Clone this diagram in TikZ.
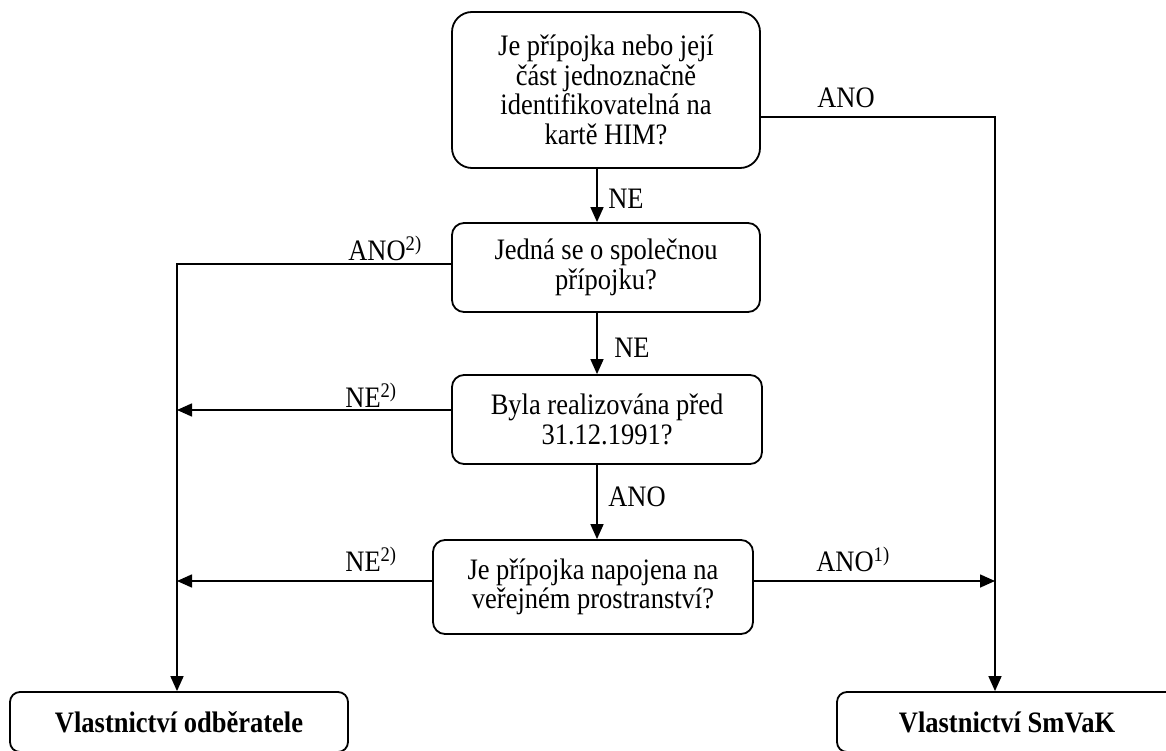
\documentclass[tikz,border=0pt]{standalone}
\usepackage{fontspec}
\usepackage{graphicx}
\setmainfont{Liberation Serif}
\usetikzlibrary{arrows.meta}
\newcommand{\vs}[1]{\scalebox{1}[1.12]{#1}}
\begin{document}
\begin{tikzpicture}[x=1pt,y=-1pt,
  box/.style={draw, line width=1.8pt, rounded corners=12pt, inner sep=0pt, align=center,
    font={\fontsize{26.5}{29.5}\selectfont\lineskiplimit=-60pt}},
  endbox/.style={box, rounded corners=10pt, font=\bfseries\fontsize{26.5}{29.5}\selectfont},
  lbl/.style={inner sep=0pt, font=\fontsize{26.5}{29.5}\selectfont},
  con/.style={line width=1.6pt},
  arr/.style={con, -{Triangle[length=15pt,width=13pt]}},
]
\clip (0,0) rectangle (1166,751);
% boxes
\node[box, rounded corners=20pt, minimum width=308pt, minimum height=156pt] (q1) at (606,90)
  {\vs{Je přípojka nebo její}\\\vs{část jednoznačně}\\\vs{identifikovatelná na}\\\vs{kartě HIM?}};
\node[box, minimum width=308pt, minimum height=89pt] (q2) at (606,267.5)
  {\vs{Jedná se o společnou}\\\vs{přípojku?}};
\node[box, minimum width=310pt, minimum height=89pt] (q3) at (607,419.5)
  {\vs{Byla realizována před}\\\vs{31.12.1991?}};
\node[box, minimum width=320pt, minimum height=94pt] (q4) at (593,587)
  {\vs{Je přípojka napojena na}\\\vs{veřejném prostranství?}};
\node[endbox, minimum width=338pt, minimum height=60pt] (own) at (179,722) {\vs{Vlastnictví odběratele}};
\node[endbox, minimum width=340pt, minimum height=60pt] (smv) at (1007,722) {\vs{Vlastnictví SmVaK}};
% helper coordinates
\coordinate (m) at (597,0);
\coordinate (c1) at (995,117);
\coordinate (c2) at (177,264);
\coordinate (l3) at (177,410);
\coordinate (l4) at (177,581);
\coordinate (r4) at (995,581);
% connectors
\draw[arr] (q1.south -| m) -- (q2.north -| m);
\draw[arr] (q2.south -| m) -- (q3.north -| m);
\draw[arr] (q3.south -| m) -- (q4.north -| m);
\draw[arr] (q1.east |- c1) -- (c1) -- (c1 |- smv.north);
\draw[arr] (q2.west |- c2) -- (c2) -- (c2 |- own.north);
\draw[arr] (q3.west |- l3) -- (l3);
\draw[arr] (q4.west |- l4) -- (l4);
\draw[arr] (q4.east |- r4) -- (r4);
% labels
\node[lbl] (t1) at (846,98) {\vs{ANO}};
\node[lbl] (t2) at (626,199) {\vs{NE}};
\node[lbl] (t3) at (385,248) {\vs{ANO\textsuperscript{2)}}};
\node[lbl] (t4) at (632,348) {\vs{NE}};
\node[lbl] (t5) at (371,395) {\vs{NE\textsuperscript{2)}}};
\node[lbl] (t6) at (637,497) {\vs{ANO}};
\node[lbl] (t7) at (371,559) {\vs{NE\textsuperscript{2)}}};
\node[lbl] (t8) at (853,559) {\vs{ANO\textsuperscript{1)}}};
\end{tikzpicture}
\end{document}
